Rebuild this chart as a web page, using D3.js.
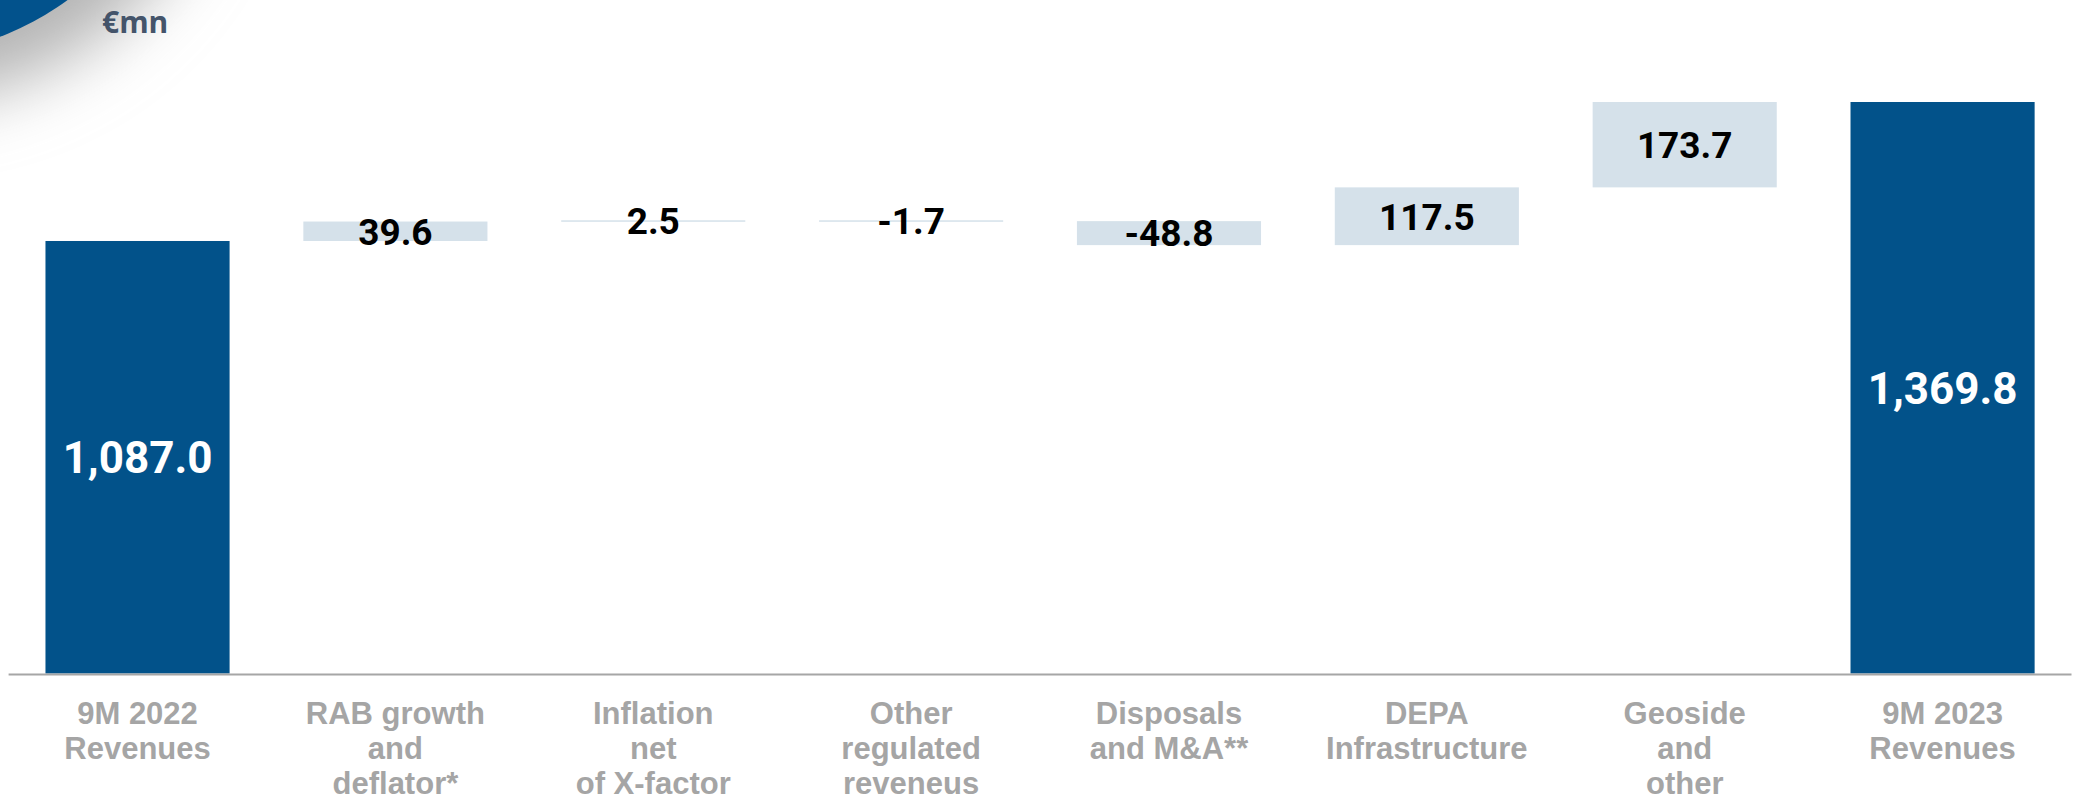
<!DOCTYPE html>
<html>
<head>
<meta charset="utf-8">
<script src="https://cdn.jsdelivr.net/npm/d3@7"></script>
<style>
  html, body { margin: 0; padding: 0; background: #ffffff; }
  svg { display: block; }
</style>
</head>
<body>
<svg id="chart" width="2077" height="802"></svg>
<script>
// Revenue bridge, 9M 2022 -> 9M 2023 (€mn)
const categories = [
  "9M 2022 Revenues",
  "RAB growth and deflator*",
  "Inflation net of X-factor",
  "Other regulated reveneus",
  "Disposals and M&A**",
  "DEPA Infrastructure",
  "Geoside and other",
  "9M 2023 Revenues"
];
const categoryLines = [
  ["9M 2022", "Revenues"],
  ["RAB growth", "and", "deflator*"],
  ["Inflation", "net", "of X-factor"],
  ["Other", "regulated", "reveneus"],
  ["Disposals", "and M&A**"],
  ["DEPA", "Infrastructure"],
  ["Geoside", "and", "other"],
  ["9M 2023", "Revenues"]
];
const values = [1087.0, 39.6, 2.5, -1.7, -48.8, 117.5, 173.7, 1369.8];
const kinds  = ["total", "delta", "delta", "delta", "delta", "delta", "delta", "total"];

const W = 2077, H = 802;
const svg = d3.select("#chart");

// Corner decoration: blue disc with a soft grey shadow
const defs = svg.append("defs");
defs.append("filter").attr("id", "soft").attr("x", "-50%").attr("y", "-50%")
  .attr("width", "200%").attr("height", "200%")
  .append("feGaussianBlur").attr("stdDeviation", 34);
svg.append("circle").attr("cx", -100).attr("cy", -228).attr("r", 330)
  .attr("fill", "#b4b4b4").attr("filter", "url(#soft)");
svg.append("circle").attr("cx", -100).attr("cy", -228).attr("r", 283)
  .attr("fill", "#02528c");

svg.append("text").attr("x", 102).attr("y", 33)
  .attr("font-family", "'Open Sans', 'Noto Sans', sans-serif")
  .attr("font-weight", 700).attr("font-size", 30)
  .attr("fill", "#44546a").text("€mn");

// Waterfall geometry
let running = 0;
const steps = values.map((v, i) => {
  let start, end;
  if (kinds[i] === "total") { start = 0; end = v; running = v; }
  else { start = running; end = running + v; running = end; }
  return { cat: categories[i], lines: categoryLines[i], value: v, kind: kinds[i], start, end };
});

const x = d3.scaleBand().domain(categories).range([8.6, 2071.5])
  .paddingInner(0.286).paddingOuter(0.143);
const y = d3.scaleLinear().domain([207, 1369.8]).range([673.5, 102]);
const baseY = y.range()[0];

const fmt = v => d3.format(",.1f")(v).replace("\u2212", "-");

const bars = svg.append("g");
bars.selectAll("rect").data(steps).join("rect")
  .attr("x", d => x(d.cat))
  .attr("width", x.bandwidth())
  .attr("y", d => d.kind === "total" ? y(d.end) : y(Math.max(d.start, d.end)))
  .attr("height", d => d.kind === "total"
      ? baseY - y(d.end)
      : Math.max(1.5, Math.abs(y(d.start) - y(d.end))))
  .attr("fill", d => d.kind === "total" ? "#02528a" : "#d5e1ea");

// Value labels, centred on each bar
svg.append("g").selectAll("text").data(steps).join("text")
  .attr("x", d => x(d.cat) + x.bandwidth() / 2)
  .attr("y", d => d.kind === "total"
      ? (y(d.end) + baseY) / 2
      : (y(d.start) + y(d.end)) / 2)
  .attr("dy", "0.36em")
  .attr("text-anchor", "middle")
  .attr("font-family", "Roboto, 'Liberation Sans', sans-serif")
  .attr("font-weight", 700)
  .attr("font-size", d => d.kind === "total" ? 44 : 37)
  .attr("fill", d => d.kind === "total" ? "#ffffff" : "#000000")
  .text(d => fmt(d.value));

// Category axis line
svg.append("line")
  .attr("x1", x.range()[0]).attr("x2", x.range()[1])
  .attr("y1", baseY + 1).attr("y2", baseY + 1)
  .attr("stroke", "#a6a6a6").attr("stroke-width", 2);

// Category labels
const cl = svg.append("g").selectAll("text").data(steps).join("text")
  .attr("text-anchor", "middle")
  .attr("font-family", "'Liberation Sans', Arial, sans-serif")
  .attr("font-weight", 700)
  .attr("font-size", 31)
  .attr("fill", "#a5a5a5");
cl.selectAll("tspan").data(d => d.lines.map(t => ({ t, cx: x(d.cat) + x.bandwidth() / 2 })))
  .join("tspan")
  .attr("x", d => d.cx)
  .attr("y", (d, i) => 724 + i * 35)
  .text(d => d.t);
</script>
</body>
</html>
